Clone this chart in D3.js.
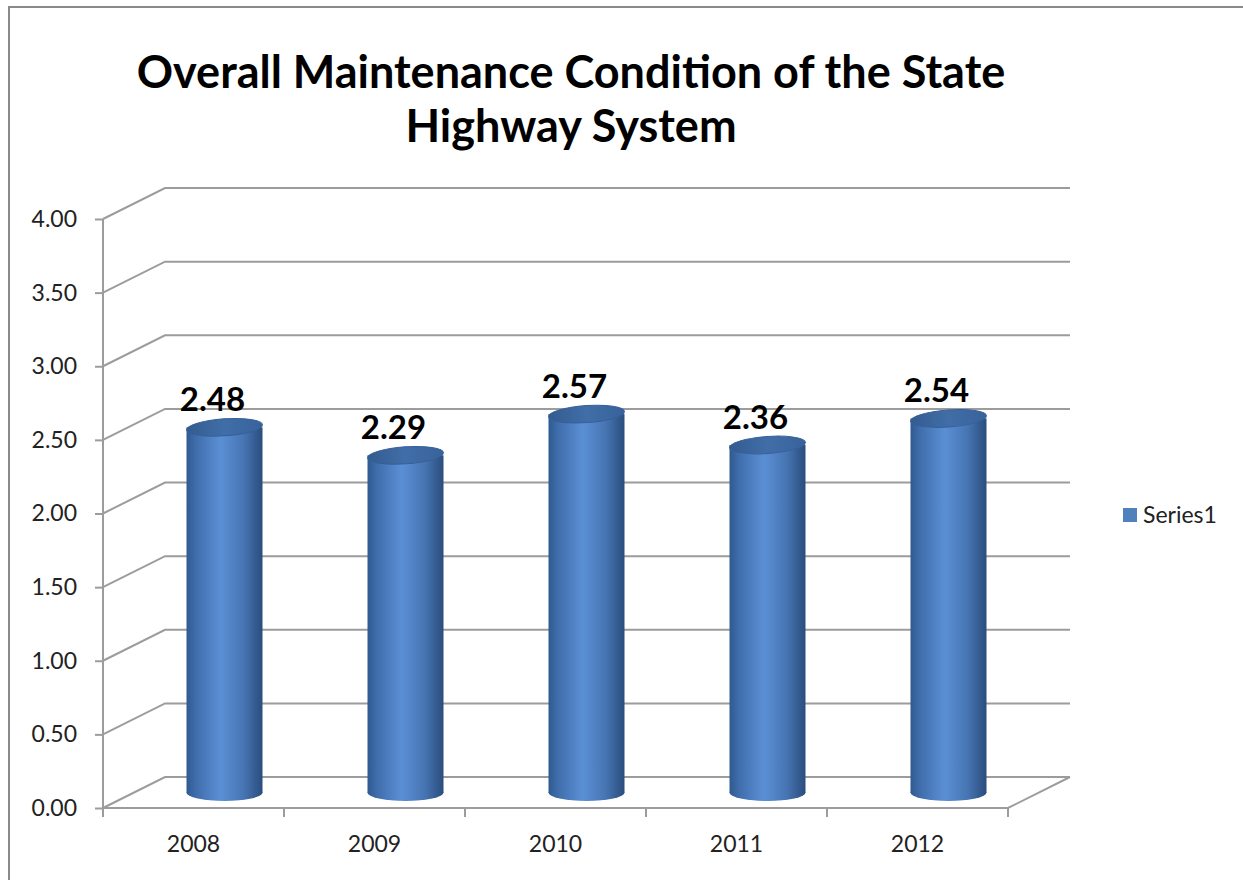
<!DOCTYPE html>
<html>
<head>
<meta charset="utf-8">
<title>Overall Maintenance Condition of the State Highway System</title>
<script src="https://d3js.org/d3.v7.min.js"></script>
<style>
  body { margin: 0; background: #fff; }
  svg { display: block; font-family: Lato, "Open Sans", sans-serif; }
</style>
</head>
<body>
<svg width="1243" height="880"></svg>
<script>
// chart data
var years = ["2008", "2009", "2010", "2011", "2012"];
var values = [2.48, 2.29, 2.57, 2.36, 2.54];
var yTicks = [0, 0.5, 1, 1.5, 2, 2.5, 3, 3.5, 4];
var titleLines = ["Overall Maintenance Condition of the State", "Highway System"];
var seriesName = "Series1";

var svg = d3.select("svg");

// depth of the 3d box
var dx = 62, dy = -31;

var x = d3.scaleBand().domain(years).range([103, 1008]);
var y = d3.scaleLinear().domain([0, 4]).range([808, 219]);

// outer frame (only top and left edges show)
svg.append("path")
    .attr("d", "M9,880 L9,7 L1243,7")
    .attr("fill", "none")
    .attr("stroke", "#8a8a8a")
    .attr("stroke-width", 2);

// title
svg.append("g").selectAll("text")
  .data(titleLines)
  .enter().append("text")
    .attr("x", 571)
    .attr("y", function(d, i) { return 88 + i * 54; })
    .attr("text-anchor", "middle")
    .attr("font-weight", "bold")
    .attr("font-size", 45)
    .attr("fill", "#000")
    .text(function(d) { return d; });

// gridlines on back wall with the diagonal going to the axis
var grid = svg.append("g")
    .attr("fill", "none")
    .attr("stroke", "#9c9c9c")
    .attr("stroke-width", 2);

grid.selectAll("path")
  .data(yTicks)
  .enter().append("path")
    .attr("d", function(t) {
      var yy = y(t);
      return "M" + x.range()[0] + "," + yy +
             " L" + (x.range()[0] + dx) + "," + (yy + dy) +
             " L" + (x.range()[1] + dx) + "," + (yy + dy);
    });

// floor front edge and right diagonal
grid.append("path")
    .attr("d", "M" + x.range()[0] + "," + y(0) +
               " L" + x.range()[1] + "," + y(0) +
               " L" + (x.range()[1] + dx) + "," + (y(0) + dy));

// y axis
var yAxis = svg.append("g")
    .attr("transform", "translate(" + x.range()[0] + ",0)")
    .call(d3.axisLeft(y).tickValues(yTicks).tickSize(8).tickPadding(18)
      .tickFormat(d3.format(".2f")));
yAxis.select(".domain").attr("stroke", "#9c9c9c").attr("stroke-width", 2)
    .attr("d", "M0," + y(4) + "V" + y(0));
yAxis.selectAll(".tick line").attr("stroke", "#9c9c9c").attr("stroke-width", 2);
yAxis.selectAll(".tick text")
    .attr("font-size", 23)
    .attr("font-family", "Lato, sans-serif")
    .attr("fill", "#222");

// x axis ticks at band edges
var edges = years.map(function(d) { return x(d); }).concat([x.range()[1]]);
svg.append("g").selectAll("line")
  .data(edges)
  .enter().append("line")
    .attr("x1", function(d) { return d; })
    .attr("x2", function(d) { return d; })
    .attr("y1", y(0))
    .attr("y2", y(0) + 9)
    .attr("stroke", "#9c9c9c")
    .attr("stroke-width", 2);

svg.append("g").selectAll("text")
  .data(years)
  .enter().append("text")
    .attr("x", function(d) { return x(d) + x.bandwidth() / 2; })
    .attr("y", 852)
    .attr("text-anchor", "middle")
    .attr("font-size", 23)
    .attr("fill", "#222")
    .text(function(d) { return d; });

// cylinder gradients
var defs = svg.append("defs");
var bodyGrad = defs.append("linearGradient").attr("id", "cylBody")
    .attr("x1", "0%").attr("x2", "100%").attr("y1", "0%").attr("y2", "0%");
bodyGrad.append("stop").attr("offset", "0%").attr("stop-color", "#2f5a90");
bodyGrad.append("stop").attr("offset", "12%").attr("stop-color", "#3f6dab");
bodyGrad.append("stop").attr("offset", "45%").attr("stop-color", "#5b8fd5");
bodyGrad.append("stop").attr("offset", "75%").attr("stop-color", "#4775b3");
bodyGrad.append("stop").attr("offset", "100%").attr("stop-color", "#2a4d7d");

var capGrad = defs.append("linearGradient").attr("id", "cylTop")
    .attr("x1", "0%").attr("x2", "100%").attr("y1", "0%").attr("y2", "0%");
capGrad.append("stop").attr("offset", "0%").attr("stop-color", "#335b8f");
capGrad.append("stop").attr("offset", "50%").attr("stop-color", "#416ea8");
capGrad.append("stop").attr("offset", "100%").attr("stop-color", "#38629a");

var rx = 38, ry = 8.5;
var cx = function(d) { return x(d) + x.bandwidth() / 2 + dx / 2; };
var baseY = y(0) + dy / 2;
var topY = function(v) { return y(v) + dy / 2; };

var bars = svg.append("g").selectAll("g")
  .data(years)
  .enter().append("g");

// bottom ellipse
bars.append("ellipse")
    .attr("cx", cx)
    .attr("cy", baseY)
    .attr("rx", rx)
    .attr("ry", ry)
    .attr("fill", "url(#cylBody)");

// body
bars.append("rect")
    .attr("x", function(d) { return cx(d) - rx; })
    .attr("y", function(d, i) { return topY(values[i]); })
    .attr("width", rx * 2)
    .attr("height", function(d, i) { return baseY - topY(values[i]); })
    .attr("fill", "url(#cylBody)");

// top cap, slightly tilted
bars.append("ellipse")
    .attr("cx", 0)
    .attr("cy", 0)
    .attr("rx", rx)
    .attr("ry", ry)
    .attr("transform", function(d, i) {
      return "translate(" + cx(d) + "," + topY(values[i]) + ") rotate(-4)";
    })
    .attr("fill", "url(#cylTop)")
    .attr("stroke", "#37609a")
    .attr("stroke-width", 1);

// data labels
bars.append("text")
    .attr("x", function(d) { return cx(d) - 12; })
    .attr("y", function(d, i) { return topY(values[i]) - 16; })
    .attr("text-anchor", "middle")
    .attr("font-weight", "bold")
    .attr("font-size", 33)
    .attr("fill", "#000")
    .text(function(d, i) { return d3.format(".2f")(values[i]); });

// legend
var legend = svg.append("g").attr("transform", "translate(1123,508)");
legend.append("rect")
    .attr("width", 14)
    .attr("height", 14)
    .attr("fill", "#4f81bd");
legend.append("text")
    .attr("x", 20)
    .attr("y", 15)
    .attr("font-size", 23)
    .attr("fill", "#222")
    .text(seriesName);
</script>
</body>
</html>
